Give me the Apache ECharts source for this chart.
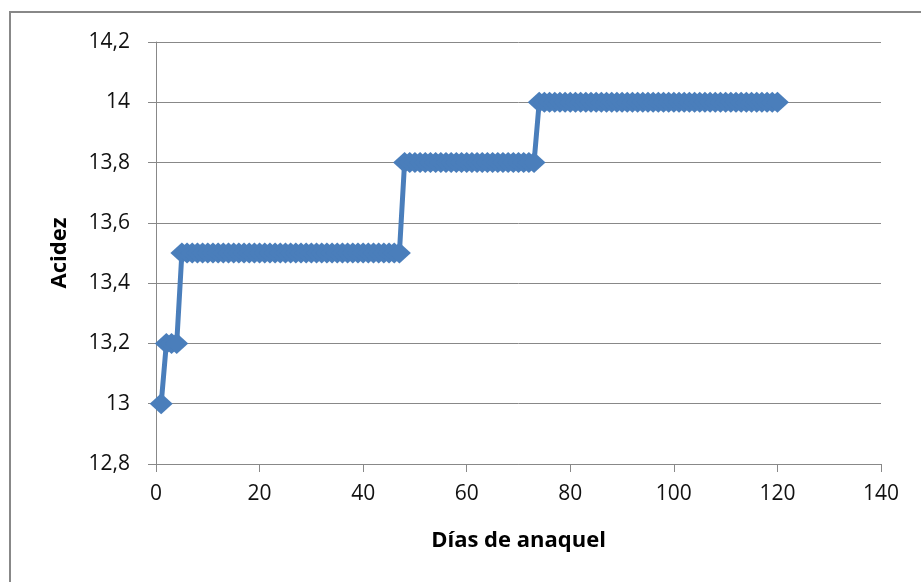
<!DOCTYPE html>
<html>
<head>
<meta charset="utf-8">
<script src="https://cdn.jsdelivr.net/npm/echarts@6/dist/echarts.min.js"></script>
<style>html,body{margin:0;padding:0;background:#fff;}#c{width:921px;height:582px;}</style>
</head>
<body>
<div id="c"></div>
<script>
// Data: shelf days (1..120) and acidity, read as step levels
const firstDay = 1;
const lastDay = 120;
const segmentStarts = [1, 2, 5, 48, 74];
const segmentValues = [13, 13.2, 13.5, 13.8, 14];
const xTitle = 'Días de anaquel';
const yTitle = 'Acidez';

const days = [];
for (let d = firstDay; d <= lastDay; d++) days.push(d);
const acidez = days.map(d => {
  let v = segmentValues[0];
  for (let i = 0; i < segmentStarts.length; i++) if (d >= segmentStarts[i]) v = segmentValues[i];
  return v;
});

const chart = echarts.init(document.getElementById('c'), null, {renderer: 'canvas'});
const fmtY = v => String(Math.round(v * 10) / 10).replace('.', ',');
chart.setOption({
  animation: false,
  backgroundColor: '#fff',
  grid: {left: 156, right: 40, top: 42, bottom: 118},
  graphic: [{
    type: 'rect', shape: {x: 10, y: 12, width: 1000, height: 1000},
    style: {fill: 'none', stroke: '#888', lineWidth: 2}, silent: true, z: -1
  }],
  xAxis: {
    type: 'value', min: 0, max: 140, interval: 20,
    name: xTitle, nameLocation: 'middle', nameGap: 66,
    nameTextStyle: {fontFamily: 'Open Sans', fontWeight: 'bold', fontSize: 22, color: '#000'},
    axisLine: {show: true, lineStyle: {color: '#888', width: 1}},
    axisTick: {show: true, length: 8, lineStyle: {color: '#888'}},
    axisLabel: {margin: 20, fontFamily: 'Open Sans', fontSize: 21, color: '#111'},
    splitLine: {show: false}
  },
  yAxis: {
    type: 'value', min: 12.8, max: 14.2, interval: 0.2,
    name: yTitle, nameLocation: 'middle', nameGap: 85, nameRotate: 90,
    nameTextStyle: {fontFamily: 'Open Sans', fontWeight: 'bold', fontSize: 22, color: '#000'},
    axisLine: {show: true, lineStyle: {color: '#888', width: 1}},
    axisTick: {show: true, length: 8, lineStyle: {color: '#888'}},
    axisLabel: {margin: 26, fontFamily: 'Open Sans', fontSize: 21, color: '#111', formatter: fmtY},
    splitLine: {show: true, lineStyle: {color: '#888', width: 1}}
  },
  series: [{
    type: 'line',
    data: days.map((d, i) => [d, acidez[i]]),
    symbol: 'diamond', symbolSize: [23, 21],
    showAllSymbol: true,
    itemStyle: {color: '#4a7ebb'},
    lineStyle: {color: '#4a7ebb', width: 5}
  }]
});
</script>
</body>
</html>
